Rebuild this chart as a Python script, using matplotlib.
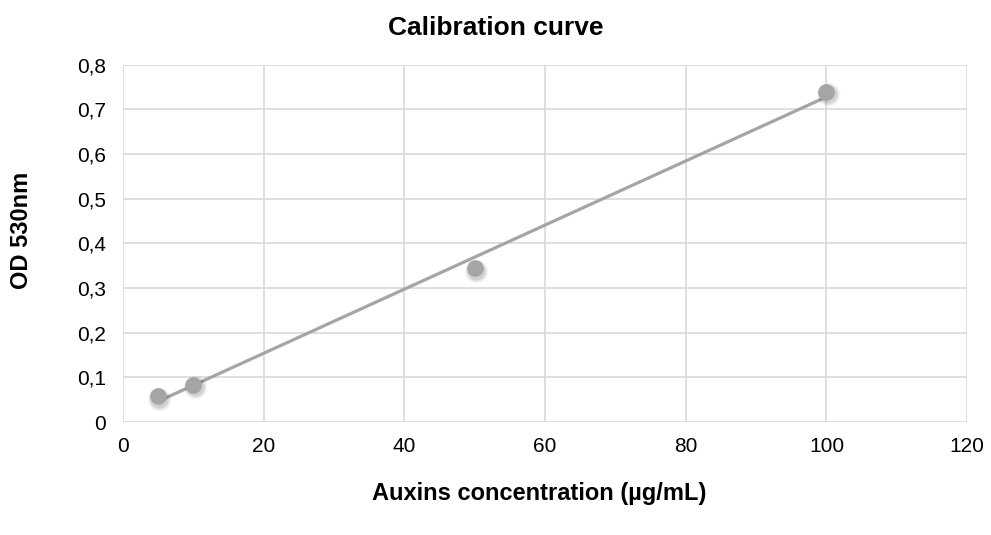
import numpy as np
import matplotlib
matplotlib.use("Agg")
import matplotlib.pyplot as plt
import matplotlib.transforms as mtransforms

plt.rcParams['font.family'] = ['Liberation Sans', 'DejaVu Sans']

conc = [5, 10, 50, 100]
od = [0.058, 0.084, 0.344, 0.740]
xticks = [0, 20, 40, 60, 80, 100, 120]
yticks = [0, 0.1, 0.2, 0.3, 0.4, 0.5, 0.6, 0.7, 0.8]
ytick_labels = ['0', '0,1', '0,2', '0,3', '0,4', '0,5', '0,6', '0,7', '0,8']

fig = plt.figure(figsize=(9.91, 5.35), dpi=100)
ax = fig.add_axes([0.124, 0.211, 0.852, 0.668])

gray = '#A5A5A5'
slope, intercept = np.polyfit(conc, od, 1)
xf = np.array([min(conc), max(conc)])
ax.plot(xf, slope * xf + intercept, color=gray, lw=2.3, zorder=3, solid_capstyle='butt')

# soft shadow under markers
shadow_tr = mtransforms.offset_copy(ax.transData, fig=fig, x=1.0, y=-2.0, units='points')
for ms, a in [(17, 0.04), (15, 0.06), (13, 0.09)]:
    ax.plot(conc, od, 'o', ms=ms, color='black', mec='none', alpha=a,
            transform=shadow_tr, zorder=3.5)
ax.plot(conc, od, 'o', ms=12, color=gray, mec='none', zorder=4)

ax.set_xlim(0, 120)
ax.set_ylim(0, 0.8)
ax.set_xticks(xticks)
ax.set_yticks(yticks)
ax.set_yticklabels(ytick_labels)
ax.grid(True, color='#D9D9D9', lw=1.2, zorder=0)
ax.set_axisbelow(True)
for s in ax.spines.values():
    s.set_visible(False)
ax.tick_params(length=0, labelsize=15, colors='black')
ax.tick_params(axis='x', pad=11)
ax.tick_params(axis='y', pad=12)

fig.text(0.5, 0.948, 'Calibration curve', ha='center', va='center',
         fontsize=19, fontweight='bold')
fig.text(0.544, 0.077, 'Auxins concentration (µg/mL)', ha='center', va='center',
         fontsize=17, fontweight='bold')
fig.text(0.022, 0.57, 'OD 530nm', ha='center', va='center', rotation=90,
         fontsize=17, fontweight='bold')

fig.savefig('out.png', dpi=100)
